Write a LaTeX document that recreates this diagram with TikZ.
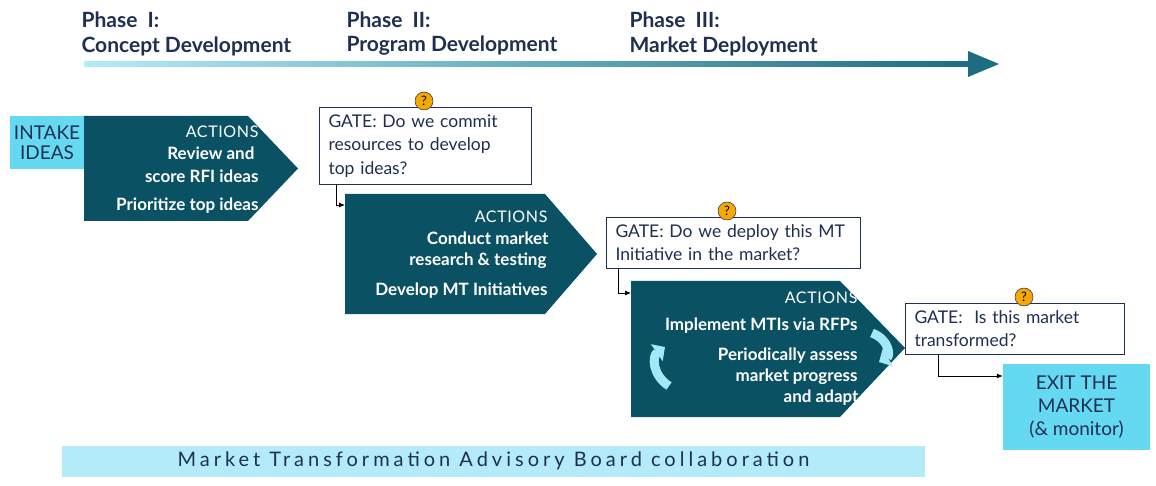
\documentclass[tikz,border=0pt]{standalone}
\usepackage{fontspec}
\setmainfont{Lato}
\usetikzlibrary{calc,arrows.meta,shadings}
\definecolor{teal}{HTML}{0A5263}
\definecolor{cyanbox}{HTML}{66D9F2}
\definecolor{paleband}{HTML}{B3ECF8}
\definecolor{gateline}{HTML}{1F2F4F}
\definecolor{qmark}{HTML}{F5A800}
\def\Fs{\fontsize{17.5}{23.5}\selectfont}
\tikzset{
  gate/.style={draw=gateline,line width=1pt,fill=white,align=left,anchor=north west,
    inner xsep=9pt,inner ysep=7pt,font=\Fs,text=gateline},
  cyanbox/.style={fill=cyanbox,align=center,font=\fontsize{19}{23}\selectfont,text=gateline},
  action/.style={text=white,anchor=east,font=\fontsize{17}{18}\selectfont\bfseries},
  actionhead/.style={text=white,anchor=east,font=\fontsize{16}{18}\selectfont\addfontfeature{LetterSpace=4}},
  link/.style={-{Latex[length=6pt,width=5pt]},line width=0.8pt},
  phase/.style={anchor=west,font=\fontsize{21}{26}\selectfont\bfseries,text=gateline},
  loop/.style={line width=9pt,cyanbox!60!white,-{Triangle[length=10pt,width=20pt]}},
}
\newcommand{\qmark}[1]{\node[circle,fill=qmark,draw=gateline,line width=0.5pt,inner sep=0pt,minimum size=18pt,font=\fontsize{13}{13}\selectfont,yshift=6pt] at (#1) {?};}
\begin{document}
\begin{tikzpicture}[x=1pt,y=-1pt]
  \useasboundingbox (0,0) rectangle (1156,486);
  % phases
  \node[phase] (ph1) at (78,20) {Phase \ I:};
  \node[phase] at (78,46) {Concept Development};
  \node[phase] (ph2) at (343,20) {Phase \ II:};
  \node[phase] at (343,46) {Program Development};
  \node[phase] (ph3) at (626,20) {Phase \ III:};
  \node[phase] at (626,46) {Market Deployment};
  % timeline
  \shade[left color=cyanbox!50!white,right color=teal!80!cyanbox] (84,61.5) rectangle (970,66.5);
  \fill[teal!80!cyanbox] (968,51) -- (999,64) -- (968,77) -- cycle;
  % intake
  \node[cyanbox,minimum width=74pt,minimum height=53pt] (intake) at (47,142.5) {INTAKE\\[-3pt]IDEAS};
  % action pentagons
  \fill[teal] (84,116) -- (248,116) -- (298,168.5) -- (248,221) -- (84,221) -- cycle;
  \fill[teal] (345,194) -- (545,194) -- (597,254) -- (545,314) -- (345,314) -- cycle;
  \fill[teal] (631,281) -- (840,281) -- (905,348) -- (840,417) -- (631,417) -- cycle;
  \coordinate (P1) at (345,205);
  \coordinate (P2) at (631,293);
  % actions 1
  \node[actionhead] at (262,132) {ACTIONS};
  \node[action] at (258,153) {Review and};
  \node[action] at (262,176) {score RFI ideas};
  \node[action] at (262,206) {Prioritize top ideas};
  % actions 2
  \node[actionhead] at (551,217) {ACTIONS};
  \node[action] at (552,238) {Conduct market};
  \node[action] at (550,261) {research \& testing};
  \node[action] at (551,291) {Develop MT Initiatives};
  % actions 3
  \node[actionhead] at (861,298) {ACTIONS};
  \node[action] at (861,326) {Implement MTIs via RFPs};
  \node[action] at (861,356) {Periodically assess};
  \node[action] at (861,377) {market progress};
  \node[action] at (862,398) {and adapt};
  % loop arrows
  \draw[loop] (669,386) .. controls (652,375) and (652,356) .. (665,347);
  \draw[loop] (872,333) .. controls (890,340) and (890,356) .. (879,362);
  % gates
  \node[gate,text width=194pt] (g1) at (319,107) {GATE:\ Do we commit\\resources to develop\\top ideas?};
  \node[gate,text width=236pt] (g2) at (606,217) {GATE:\ Do we deploy this MT\\Initiative in the market?};
  \node[gate,text width=201pt] (g3) at (905,303) {GATE:\ \ Is this market\\transformed?};
  \qmark{g1.north -| 424,0}
  \qmark{g2.north -| 727,0}
  \qmark{g3.north -| 1024,0}
  % exit
  \node[cyanbox,minimum width=147pt,minimum height=86pt] (exit) at (1076.5,407) {EXIT THE\\MARKET\\(\& monitor)};
  % links
  \draw[link] (g1.south west) ++(17,0) |- (P1);
  \draw[link] (g2.south west) ++(12,0) |- (P2);
  \draw[link] (g3.south west) ++(33,0) |- (exit.west |- 0,376);
  % advisory board
  \node[fill=paleband,minimum width=863pt,minimum height=31pt,font=\fontsize{20}{20}\selectfont\addfontfeature{LetterSpace=20},text=gateline] (board) at (493.5,461) {Market Transformation Advisory Board collaboration};
\end{tikzpicture}
\end{document}
